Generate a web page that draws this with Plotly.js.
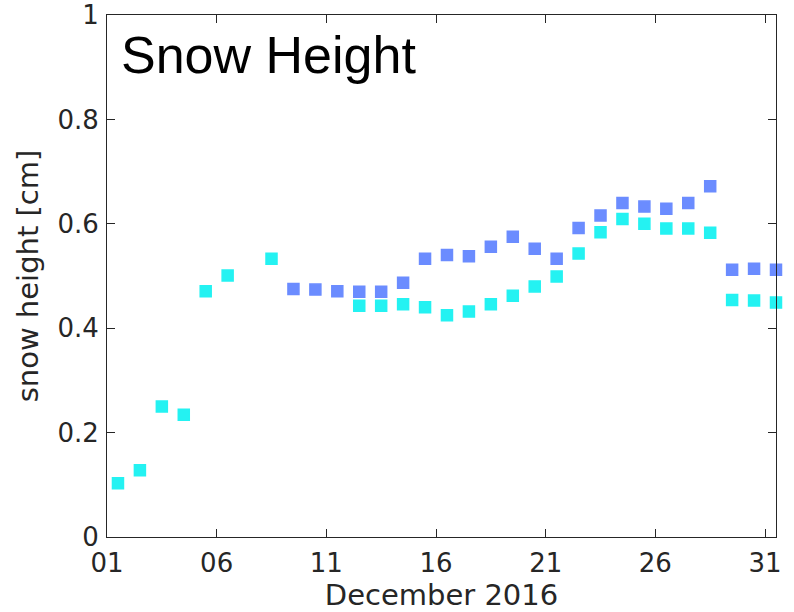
<!DOCTYPE html>
<html>
<head>
<meta charset="utf-8">
<script src="https://cdn.plot.ly/plotly-3.0.1.min.js"></script>
<style>html,body{margin:0;padding:0;background:#fff;}#chart{width:794px;height:612px;}</style>
</head>
<body>
<div id="chart"></div>
<script>
// Days of December 2016 (measurement taken around midday)
const cyanDays = [1, 2, 3, 4, 5, 6, 8, 12, 13, 14, 15, 16, 17, 18, 19, 20, 21, 22, 23, 24, 25, 26, 27, 28, 29, 30, 31];
const cyanValues = [0.103, 0.128, 0.250, 0.234, 0.471, 0.501, 0.533, 0.443, 0.443, 0.446, 0.440, 0.425, 0.432, 0.446, 0.462, 0.480, 0.499, 0.543, 0.584, 0.609, 0.600, 0.591, 0.591, 0.583, 0.454, 0.453, 0.449];
const blueDays = [9, 10, 11, 12, 13, 14, 15, 16, 17, 18, 19, 20, 21, 22, 23, 24, 25, 26, 27, 28, 29, 30, 31];
const blueValues = [0.475, 0.474, 0.471, 0.470, 0.470, 0.487, 0.533, 0.540, 0.538, 0.556, 0.575, 0.552, 0.533, 0.592, 0.616, 0.640, 0.633, 0.629, 0.640, 0.672, 0.512, 0.514, 0.512];
const tickDays = [1, 6, 11, 16, 21, 26, 31];
const tickLabels = ["01", "06", "11", "16", "21", "26", "31"];

const pad = d => (d < 10 ? "0" : "") + d;
const toDate = d => "2016-12-" + pad(d) + " 12:00";
const axisColor = "#262626";

const traces = [
  {
    x: blueDays.map(toDate), y: blueValues, type: "scatter", mode: "markers",
    cliponaxis: false, showlegend: false,
    marker: {symbol: "square", size: 11, color: "#6B8CFF", line: {color: "#6B8CFF", width: 1.5}}
  },
  {
    x: cyanDays.map(toDate), y: cyanValues, type: "scatter", mode: "markers",
    cliponaxis: false, showlegend: false,
    marker: {symbol: "square", size: 11, color: "#24F2F2", line: {color: "#24F2F2", width: 1.5}}
  }
];

const layout = {
  width: 794, height: 612,
  margin: {l: 107, r: 18, t: 15, b: 75},
  paper_bgcolor: "#fff", plot_bgcolor: "#fff",
  font: {family: "DejaVu Sans", color: axisColor},
  xaxis: {
    type: "date",
    range: ["2016-12-01 00:00", "2016-12-31 12:00"],
    tickvals: tickDays.map(d => "2016-12-" + pad(d)),
    ticktext: tickLabels,
    ticks: "inside", ticklen: 8, tickcolor: axisColor, tickwidth: 1,
    showline: true, linecolor: axisColor, linewidth: 1, mirror: "ticks",
    showgrid: false, zeroline: false,
    tickfont: {family: "DejaVu Sans", size: 26, color: axisColor},
    ticklabelstandoff: 3,
    title: {text: "December 2016", font: {family: "DejaVu Sans", size: 29, color: axisColor}, standoff: 7}
  },
  yaxis: {
    range: [0, 1],
    tickvals: [0, 0.2, 0.4, 0.6, 0.8, 1],
    ticktext: ["0", "0.2", "0.4", "0.6", "0.8", "1"],
    ticks: "inside", ticklen: 8, tickcolor: axisColor, tickwidth: 1,
    showline: true, linecolor: axisColor, linewidth: 1, mirror: "ticks",
    showgrid: false, zeroline: false,
    tickfont: {family: "DejaVu Sans", size: 26, color: axisColor},
    ticklabelstandoff: 2,
    title: {text: "snow height [cm]", font: {family: "DejaVu Sans", size: 29, color: axisColor}, standoff: 10}
  },
  annotations: [{
    text: "Snow Height", xref: "paper", yref: "paper",
    x: 0.018, y: 0.923, xanchor: "left", yanchor: "middle", showarrow: false,
    font: {family: "Liberation Sans", size: 52, color: "#000"}
  }]
};

Plotly.newPlot("chart", traces, layout, {displayModeBar: false, staticPlot: true});
</script>
</body>
</html>
